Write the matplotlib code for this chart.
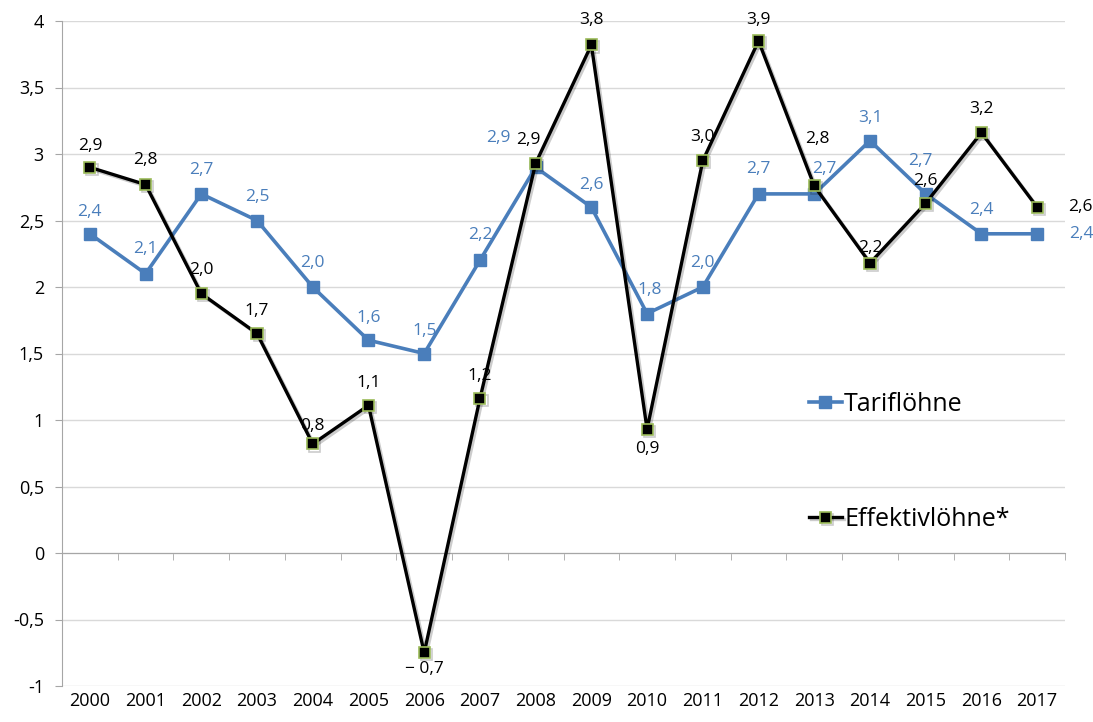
import matplotlib
matplotlib.use("Agg")
import matplotlib.pyplot as plt
import matplotlib.patheffects as pe
import numpy as np

plt.rcParams['font.family'] = ['Open Sans', 'DejaVu Sans']

# data
years = list(range(2000, 2018))
tarif = [2.4, 2.1, 2.7, 2.5, 2.0, 1.6, 1.5, 2.2, 2.9, 2.6, 1.8, 2.0, 2.7, 2.7, 3.1, 2.7, 2.4, 2.4]
effektiv = [2.9, 2.77, 1.95, 1.65, 0.82, 1.11, -0.75, 1.16, 2.93, 3.82, 0.93, 2.95, 3.85, 2.76, 2.18, 2.63, 3.16, 2.6]
effektiv_labels = ['2,9', '2,8', '2,0', '1,7', '0,8', '1,1', '\u2212 0,7', '1,2', '2,9', '3,8',
                   '0,9', '3,0', '3,9', '2,8', '2,2', '2,6', '3,2', '2,6']

# label offsets in points (dx, dy)
tarif_off = [(0, 16), (0, 18), (0, 17), (0, 17), (0, 17), (0, 16), (0, 16), (0, 18),
             (-27, 21), (0, 16), (2, 17), (0, 17), (0, 18), (7, 18), (0, 16), (-4, 24), (0, 17), (32, 0)]
eff_off = [(0, 15), (0, 18), (0, 17), (0, 16), (0, 13), (0, 16), (0, -12), (0, 16),
           (-5, 17), (0, 18), (0, -14), (0, 17), (0, 15), (2, 34), (0, 11), (0, 16), (0, 17), (31, 0)]

blue = '#4a7ebb'
fig = plt.figure(figsize=(10.93, 7.22), dpi=100)
ax = fig.add_axes([62 / 1093, 1 - 686 / 722, 1003 / 1093, 665 / 722])

x = np.arange(len(years))
ax.plot(x, tarif, color=blue, lw=2.6, marker='s', ms=8, mfc=blue, mec=blue,
        label='Tariflöhne', zorder=3)
shadow = [pe.SimpleLineShadow(offset=(1.5, -1.5), alpha=0.2), pe.Normal()]
ax.plot(x, effektiv, color='black', lw=2.4, marker='s', ms=8, mfc='black', mec='#9bbb59',
        mew=1.2, label='Effektivlöhne*', zorder=4, path_effects=shadow)

for i in range(len(years)):
    ax.annotate(f'{tarif[i]:.1f}'.replace('.', ','), (x[i], tarif[i]),
                xytext=tarif_off[i], textcoords='offset points',
                ha='center', va='center', color=blue, fontsize=12.5)
    ax.annotate(effektiv_labels[i], (x[i], effektiv[i]),
                xytext=eff_off[i], textcoords='offset points',
                ha='center', va='center', color='black', fontsize=12.5)

ax.set_xlim(-0.5, len(years) - 0.5)
ax.set_ylim(-1, 4)
yt = np.arange(-1, 4.01, 0.5)
ax.set_yticks(yt)
ax.set_yticklabels([(f'{v:g}').replace('.', ',') for v in yt], fontsize=13)
ax.tick_params(axis='y', length=5, color='#a6a6a6', pad=8)
ax.grid(axis='y', color='#d9d9d9', lw=1)
ax.set_axisbelow(True)

for s in ['top', 'right']:
    ax.spines[s].set_visible(False)
ax.spines['left'].set_color('#a6a6a6')
ax.spines['bottom'].set_position(('data', 0))
ax.spines['bottom'].set_color('#a6a6a6')
ax.set_xticks(x)
ax.set_xticklabels([])
ax.tick_params(axis='x', which='major', length=0)
ax.set_xticks(np.arange(-0.5, len(years), 1), minor=True)
ax.tick_params(axis='x', which='minor', length=5, color='#a6a6a6', direction='out')

trans = ax.get_xaxis_transform()
for i, yr in enumerate(years):
    ax.text(x[i], -0.022, str(yr), transform=trans, ha='center', va='center', fontsize=13)

ax.legend(loc='upper left', bbox_to_anchor=(0.745, 0.442), frameon=False, fontsize=18,
          handlelength=1.3, handletextpad=0.1, labelspacing=3.6, borderaxespad=0,
          borderpad=0)

fig.savefig('out.png', dpi=100)
